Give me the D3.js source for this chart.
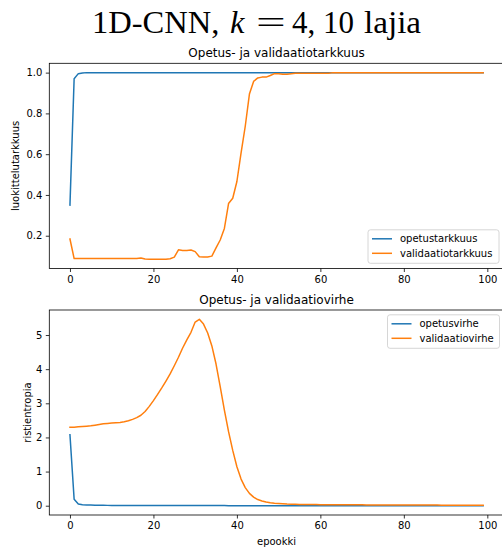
<!DOCTYPE html>
<html>
<head>
<meta charset="utf-8">
<script src="https://cdn.jsdelivr.net/npm/d3@7"></script>
<style>
  html, body { margin: 0; padding: 0; background: #fff; overflow: hidden; }
  svg { display: block; }
  text { font-family: "DejaVu Sans", sans-serif; fill: #000; }
</style>
</head>
<body>
<script>
// Epoch index 0..99
const epochs = d3.range(0, 100);

// Training / validation accuracy per epoch
const trainAcc = [
  0.35, 0.97, 0.995, 0.998, 1, 1, 1, 1, 1, 1,
  1, 1, 1, 1, 1, 1, 1, 1, 1, 1,
  1, 1, 1, 1, 1, 1, 1, 1, 1, 1,
  1, 1, 1, 1, 1, 1, 1, 1, 1, 1,
  1, 1, 1, 1, 1, 1, 1, 1, 1, 1,
  1, 1, 1, 1, 1, 1, 1, 1, 1, 1,
  1, 1, 1, 1, 1, 1, 1, 1, 1, 1,
  1, 1, 1, 1, 1, 1, 1, 1, 1, 1,
  1, 1, 1, 1, 1, 1, 1, 1, 1, 1,
  1, 1, 1, 1, 1, 1, 1, 1, 1, 1
];
const valAcc = [
  0.184, 0.088, 0.088, 0.088, 0.088, 0.088, 0.088, 0.088, 0.088, 0.088,
  0.088, 0.088, 0.088, 0.088, 0.088, 0.088, 0.088, 0.091, 0.086, 0.085,
  0.085, 0.085, 0.085, 0.085, 0.087, 0.095, 0.131, 0.128, 0.128, 0.130,
  0.122, 0.097, 0.096, 0.096, 0.100, 0.140, 0.179, 0.236, 0.358, 0.384,
  0.466, 0.606, 0.737, 0.895, 0.957, 0.974, 0.978, 0.978, 0.986, 0.995,
  0.995, 0.992, 0.992, 0.995, 0.997, 0.997, 0.997, 0.997, 0.997, 0.997,
  0.997, 0.997, 0.997, 1, 1, 1, 1, 1, 1, 1,
  1, 1, 1, 1, 1, 1, 1, 1, 1, 1,
  1, 1, 1, 1, 1, 1, 1, 1, 1, 1,
  1, 1, 1, 1, 1, 1, 1, 1, 1, 1
];

// Training / validation cross-entropy per epoch
const trainLoss = [
  2.08, 0.19, 0.05, 0.03, 0.022, 0.018, 0.015, 0.013, 0.011, 0.010,
  0.009, 0.008, 0.008, 0.007, 0.007, 0.006, 0.006, 0.006, 0.005, 0.005,
  0.005, 0.005, 0.004, 0.004, 0.004, 0.004, 0.004, 0.004, 0.003, 0.003,
  0.003, 0.003, 0.003, 0.003, 0.003, 0.003, 0.003, 0.003, 0.002, 0.002,
  0.002, 0.002, 0.002, 0.002, 0.002, 0.002, 0.002, 0.002, 0.002, 0.002,
  0.002, 0.002, 0.002, 0.002, 0.002, 0.002, 0.002, 0.002, 0.002, 0.002,
  0.001, 0.001, 0.001, 0.001, 0.001, 0.001, 0.001, 0.001, 0.001, 0.001,
  0.001, 0.001, 0.001, 0.001, 0.001, 0.001, 0.001, 0.001, 0.001, 0.001,
  0.001, 0.001, 0.001, 0.001, 0.001, 0.001, 0.001, 0.001, 0.001, 0.001,
  0.001, 0.001, 0.001, 0.001, 0.001, 0.001, 0.001, 0.001, 0.001, 0.001
];
const valLoss = [
  2.30, 2.30, 2.31, 2.32, 2.33, 2.34, 2.36, 2.38, 2.40, 2.41,
  2.42, 2.43, 2.44, 2.46, 2.49, 2.53, 2.58, 2.65, 2.76, 2.91,
  3.08, 3.26, 3.45, 3.65, 3.86, 4.10, 4.35, 4.62, 4.86, 5.08,
  5.38, 5.46, 5.32, 5.06, 4.68, 4.15, 3.49, 2.80, 2.17, 1.62,
  1.14, 0.78, 0.53, 0.36, 0.25, 0.18, 0.14, 0.11, 0.09, 0.075,
  0.065, 0.057, 0.050, 0.046, 0.042, 0.039, 0.037, 0.035, 0.033, 0.032,
  0.031, 0.030, 0.029, 0.029, 0.028, 0.027, 0.027, 0.026, 0.026, 0.025,
  0.025, 0.024, 0.024, 0.023, 0.023, 0.022, 0.022, 0.022, 0.021, 0.021,
  0.020, 0.020, 0.020, 0.019, 0.019, 0.019, 0.018, 0.018, 0.018, 0.017,
  0.017, 0.017, 0.017, 0.016, 0.016, 0.016, 0.016, 0.015, 0.015, 0.015
];

const xTicks = [0, 20, 40, 60, 80, 100];
const accTicks = [0.2, 0.4, 0.6, 0.8, 1.0];
const lossTicks = [0, 1, 2, 3, 4, 5];

const C_BLUE = "#1f77b4", C_ORANGE = "#ff7f0e";

const W = 502, H = 550;
const svg = d3.select("body").append("svg").attr("width", W).attr("height", H);

// figure title, typeset piece by piece with math-style spacing
const supFont = "'Liberation Serif', 'DejaVu Serif', serif";
const supParts = [
  { t: "1D-CNN,", x: 92, sx: 1.05 },
  { t: "k", x: 230, italic: true, sx: 1.05 },
  { t: "=", x: 256, sx: 1.7 },
  { t: "4,", x: 292 },
  { t: "10", x: 323 },
  { t: "lajia", x: 364, sx: 1.07 }
];
const supG = svg.append("g");
supParts.forEach(p => {
  const t = supG.append("text")
    .attr("transform", `translate(${p.x},33) scale(${p.sx || 1},1)`)
    .style("font-family", supFont)
    .style("font-size", "31px")
    .text(p.t);
  if (p.italic) t.style("font-style", "italic");
});

// matplotlib-like 5% data margins
function padded(arrs) {
  const lo = d3.min(arrs, a => d3.min(a)), hi = d3.max(arrs, a => d3.max(a));
  const p = (hi - lo) * 0.05;
  return [lo - p, hi + p];
}

const xDomain = [-4.95, 103.95];
const left = 49.3, right = 503.8;

function panel(cfg) {
  const x = d3.scaleLinear().domain(xDomain).range([left, right]);
  const y = d3.scaleLinear().domain(padded(cfg.series.map(s => s.values))).range([cfg.bottom, cfg.top]);
  const g = svg.append("g");

  // plot lines
  const clipId = "clip" + cfg.id;
  g.append("clipPath").attr("id", clipId).append("rect")
    .attr("x", left).attr("y", cfg.top).attr("width", right - left).attr("height", cfg.bottom - cfg.top);
  const line = vals => d3.line().x((d, i) => x(epochs[i])).y(d => y(d))(vals);
  cfg.series.forEach(s => {
    g.append("path").attr("d", line(s.values))
      .attr("fill", "none").attr("stroke", s.color).attr("stroke-width", 1.5)
      .attr("stroke-linejoin", "round").attr("stroke-linecap", "square")
      .attr("clip-path", `url(#${clipId})`);
  });

  // axes
  const xa = g.append("g").attr("transform", `translate(0,${cfg.bottom})`)
    .call(d3.axisBottom(x).tickValues(xTicks).tickFormat(d3.format("d")).tickSize(3.5).tickPadding(3.5).tickSizeOuter(0));
  const ya = g.append("g").attr("transform", `translate(${left},0)`)
    .call(d3.axisLeft(y).tickValues(cfg.yTicks).tickFormat(cfg.yFormat).tickSize(3.5).tickPadding(3.5).tickSizeOuter(0));
  [xa, ya].forEach(a => {
    a.select(".domain").remove();
    a.selectAll(".tick line").attr("stroke", "#000").attr("stroke-width", 0.8);
    a.selectAll(".tick text").style("font-size", "10px").style("font-family", "'DejaVu Sans', sans-serif").attr("fill", "#000");
  });

  // spines
  g.append("rect").attr("x", left).attr("y", cfg.top)
    .attr("width", right - left).attr("height", cfg.bottom - cfg.top)
    .attr("fill", "none").attr("stroke", "#000").attr("stroke-width", 0.8);

  // titles
  g.append("text").attr("x", (left + right) / 2).attr("y", cfg.top - 6)
    .attr("text-anchor", "middle").style("font-size", "12px").text(cfg.title);
  g.append("text")
    .attr("transform", `translate(${cfg.ylabelX},${(cfg.top + cfg.bottom) / 2}) rotate(-90)`)
    .attr("text-anchor", "middle").style("font-size", "10px").text(cfg.ylabel);
  if (cfg.xlabel) {
    g.append("text").attr("x", (left + right) / 2).attr("y", cfg.bottom + 29.5)
      .attr("text-anchor", "middle").style("font-size", "10px").text(cfg.xlabel);
  }

  // legend
  const L = cfg.legend;
  const lg = g.append("g");
  lg.append("rect").attr("x", L.x).attr("y", L.y).attr("width", L.w).attr("height", 33.5)
    .attr("rx", 2.5).attr("fill", "#fff").attr("fill-opacity", 0.8)
    .attr("stroke", "#cccccc").attr("stroke-width", 0.8);
  cfg.series.forEach((s, i) => {
    const ly = L.y + 9 + i * 14.5;
    lg.append("line").attr("x1", L.x + 4).attr("x2", L.x + 24).attr("y1", ly).attr("y2", ly)
      .attr("stroke", s.color).attr("stroke-width", 1.5);
    lg.append("text").attr("x", L.x + 32).attr("y", ly + 3.6).style("font-size", "10px").text(s.name);
  });
}

panel({
  id: "acc", top: 63.3, bottom: 268.5,
  title: "Opetus- ja validaatiotarkkuus",
  ylabel: "luokittelutarkkuus", ylabelX: 19,
  yTicks: accTicks, yFormat: d3.format(".1f"),
  series: [
    { name: "opetustarkkuus", values: trainAcc, color: C_BLUE },
    { name: "validaatiotarkkuus", values: valAcc, color: C_ORANGE }
  ],
  legend: { x: 368, y: 229.8, w: 131 }
});

panel({
  id: "loss", top: 310, bottom: 515,
  title: "Opetus- ja validaatiovirhe",
  ylabel: "ristientropia", ylabelX: 31, xlabel: "epookki",
  yTicks: lossTicks, yFormat: d3.format("d"),
  series: [
    { name: "opetusvirhe", values: trainLoss, color: C_BLUE },
    { name: "validaatiovirhe", values: valLoss, color: C_ORANGE }
  ],
  legend: { x: 387.5, y: 314.8, w: 112 }
});
</script>
</body>
</html>
